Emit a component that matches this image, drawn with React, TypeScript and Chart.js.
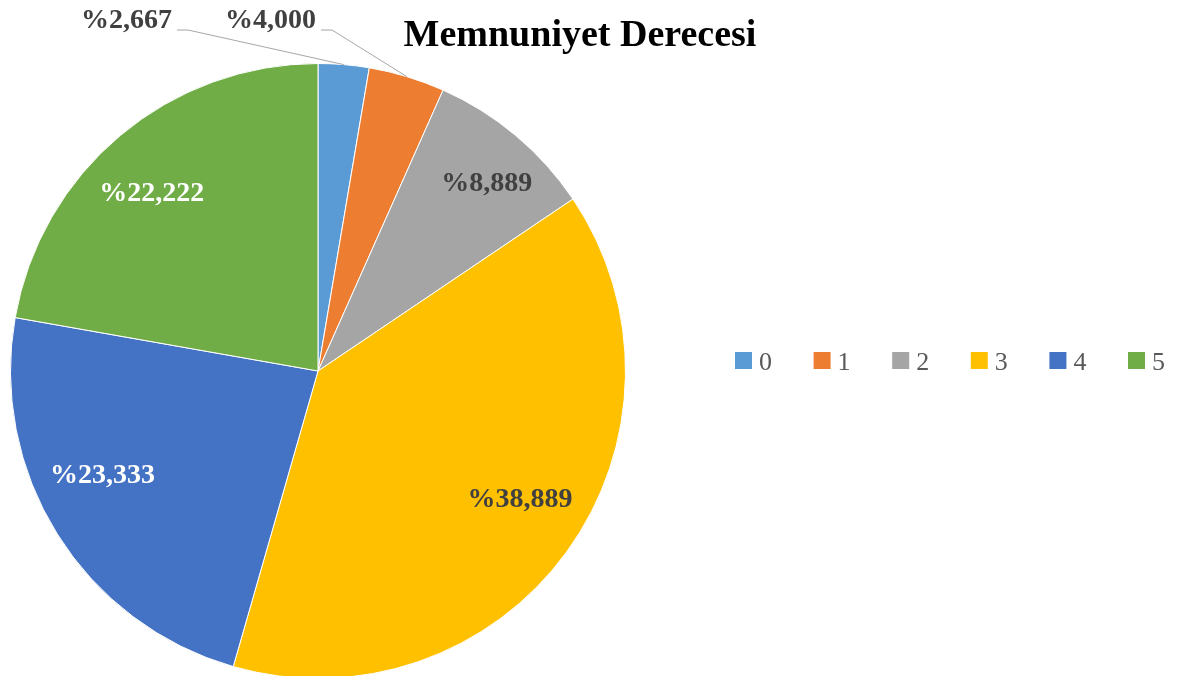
import React, { useEffect, useRef } from "react";
import { Chart, registerables } from "chart.js";

Chart.register(...registerables);

// ---- data ----
const categories = ["0", "1", "2", "3", "4", "5"];
const percentages = [2.667, 4.0, 8.889, 38.889, 23.333, 22.222];
const titleText = "Memnuniyet Derecesi";

// ---- style ----
const sliceColors = ["#5B9BD5", "#ED7D31", "#A5A5A5", "#FFC000", "#4472C4", "#70AD47"];
const labelColors = ["#404040", "#404040", "#404040", "#404040", "#FFFFFF", "#FFFFFF"];
const labelOutside = [true, true, false, false, false, false];
// inside label placement nudges (degrees, fraction of radius)
const labelAngleNudge = [0, 0, 2, -3.4, 6, -3.2];
const labelRadiusFrac = [0, 0, 0.82, 0.78, 0.78, 0.79];
const outsideAnchors: Record<number, { x: number; y: number }> = {
  0: { x: 172, y: 21 },
  1: { x: 316, y: 21 },
};
const SERIF = '"Liberation Serif", "Times New Roman", serif';

const formatPct = (v: number) => "%" + v.toFixed(3).replace(".", ",");

const overlayPlugin = {
  id: "overlay",
  afterDatasetsDraw(chart: any) {
    const ctx = chart.ctx as CanvasRenderingContext2D;
    const meta = chart.getDatasetMeta(0);
    const ds = chart.data.datasets[0];
    ctx.save();

    // data labels
    meta.data.forEach((arc: any, i: number) => {
      const p = arc.getProps(["x", "y", "startAngle", "endAngle", "outerRadius"], true);
      const mid = (p.startAngle + p.endAngle) / 2;
      const text = formatPct(Number(ds.data[i]));
      ctx.font = `bold 28px ${SERIF}`;
      ctx.fillStyle = labelColors[i];
      if (labelOutside[i]) {
        const a = outsideAnchors[i];
        const ex = p.x + Math.cos(mid) * p.outerRadius;
        const ey = p.y + Math.sin(mid) * p.outerRadius;
        ctx.strokeStyle = "#A6A6A6";
        ctx.lineWidth = 1;
        ctx.beginPath();
        ctx.moveTo(a.x + 5, a.y + 9);
        ctx.lineTo(a.x + 16, a.y + 9);
        ctx.lineTo(ex, ey);
        ctx.stroke();
        ctx.textAlign = "right";
        ctx.textBaseline = "middle";
        ctx.fillText(text, a.x, a.y);
      } else {
        const ang = mid + (labelAngleNudge[i] * Math.PI) / 180;
        const r = p.outerRadius * labelRadiusFrac[i];
        ctx.textAlign = "center";
        ctx.textBaseline = "middle";
        ctx.fillText(text, p.x + Math.cos(ang) * r, p.y + Math.sin(ang) * r);
      }
    });

    // title
    ctx.font = `bold 38px ${SERIF}`;
    ctx.fillStyle = "#000000";
    ctx.textAlign = "center";
    ctx.textBaseline = "alphabetic";
    ctx.fillText(titleText, 580, 46);

    // legend
    const labels: string[] = chart.data.labels;
    const colors: string[] = ds.backgroundColor;
    const startX = 735;
    const step = 78.6;
    ctx.font = `26px ${SERIF}`;
    ctx.textAlign = "left";
    ctx.textBaseline = "alphabetic";
    labels.forEach((lab, i) => {
      const x = startX + i * step;
      ctx.fillStyle = colors[i];
      ctx.fillRect(x, 352, 17, 17);
      ctx.fillStyle = "#595959";
      ctx.fillText(lab, x + 24, 370);
    });

    ctx.restore();
  },
};

export default function App() {
  const ref = useRef<HTMLCanvasElement | null>(null);
  useEffect(() => {
    if (!ref.current) return;
    const chart = new Chart(ref.current, {
      type: "pie",
      data: {
        labels: categories,
        datasets: [
          {
            data: percentages,
            backgroundColor: sliceColors,
            borderColor: "#FFFFFF",
            borderWidth: 1,
            hoverOffset: 0,
          },
        ],
      },
      options: {
        responsive: false,
        animation: false,
        events: [],
        layout: { padding: { top: 63, left: 10, right: 562, bottom: 21 } },
        plugins: {
          legend: { display: false },
          title: { display: false },
          tooltip: { enabled: false },
        },
      },
      plugins: [overlayPlugin],
    });
    return () => chart.destroy();
  }, []);

  return (
    <div
      style={{
        position: "fixed",
        top: 0,
        left: 0,
        width: 1188,
        height: 676,
        overflow: "hidden",
        background: "#FFFFFF",
      }}
    >
      <canvas ref={ref} width={1188} height={700} style={{ display: "block" }} />
    </div>
  );
}
